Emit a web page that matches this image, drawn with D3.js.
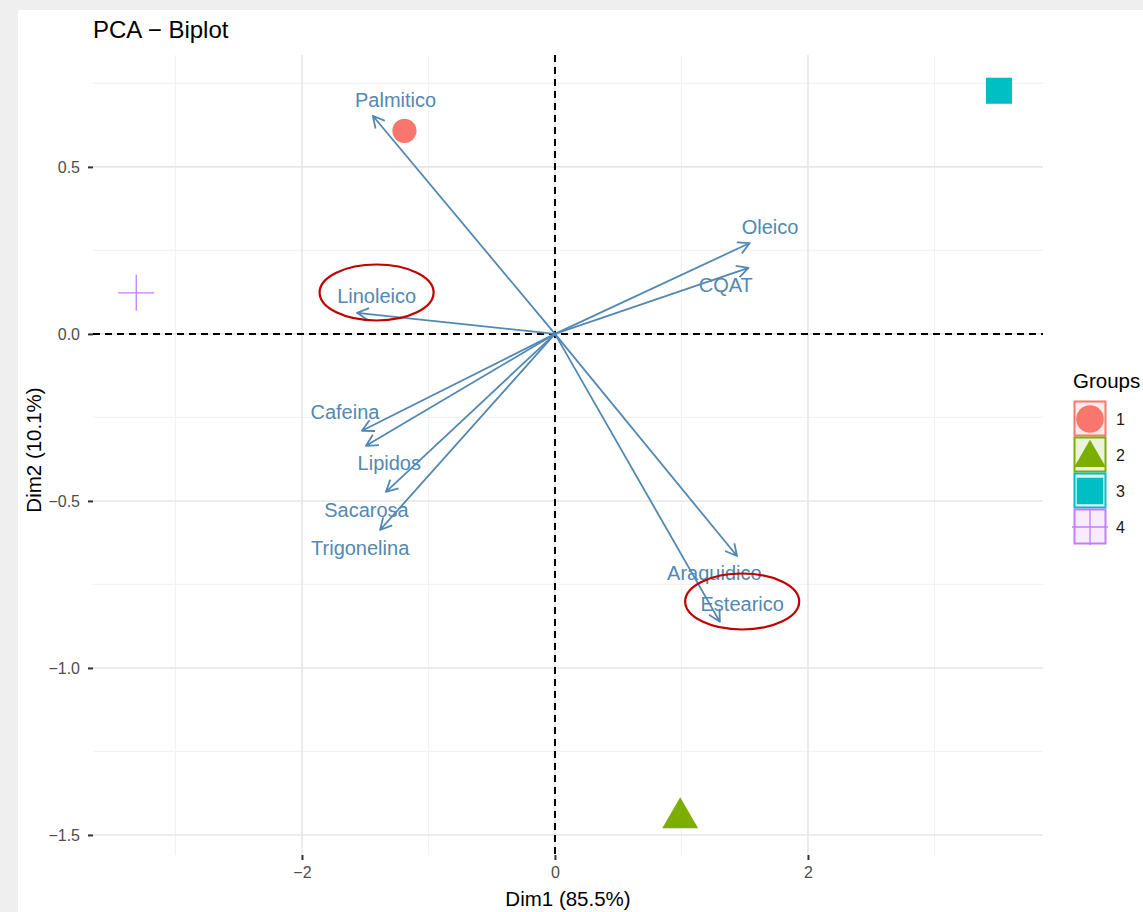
<!DOCTYPE html>
<html>
<head>
<meta charset="utf-8">
<script src="https://cdn.jsdelivr.net/npm/d3@7"></script>
<style>
  html, body { margin: 0; padding: 0; background: #efefef; }
  svg { display: block; font-family: "Liberation Sans", Arial, sans-serif; }
</style>
</head>
<body>
<svg id="chart" width="1143" height="912"></svg>
<script>
// Group scores (individuals) on Dim1 / Dim2
const groups = ["1", "2", "3", "4"];
const groupX = [-1.19, 0.99, 3.51, -3.31];
const groupY = [0.608, -1.449, 0.728, 0.123];
const groupColors = ["#F8766D", "#7CAE00", "#00BFC4", "#C77CFF"];

// Variable loadings (arrow tips)
const variables = ["Palmitico", "Oleico", "CQAT", "Linoleico", "Cafeina", "Lipidos",
                   "Sacarosa", "Trigonelina", "Araquidico", "Estearico"];
const varX = [-1.44, 1.54, 1.53, -1.565, -1.526, -1.494, -1.336, -1.383, 1.439, 1.304];
const varY = [0.653, 0.272, 0.198, 0.063, -0.290, -0.335, -0.473, -0.587, -0.665, -0.862];
// Repelled label anchors (data units)
const labelX = [-1.26, 1.70, 1.35, -1.41, -1.66, -1.31, -1.49, -1.54, 1.26, 1.48];
const labelY = [0.700, 0.320, 0.145, 0.115, -0.234, -0.386, -0.527, -0.640, -0.715, -0.810];

// Axis ticks
const xTicks = [-2, 0, 2];
const xMinor = [-3, -1, 1, 3];
const yTicks = [0.5, 0.0, -0.5, -1.0, -1.5];
const yMinor = [0.75, 0.25, -0.25, -0.75, -1.25];

// Highlighted variables (red outlines)
const highlighted = ["Linoleico", "Estearico"];

const svg = d3.select("#chart");
svg.append("rect").attr("x", 18).attr("y", 10).attr("width", 1125).attr("height", 902).attr("fill", "#ffffff");

const panel = { left: 93, right: 1043, top: 55, bottom: 855 };
const x = d3.scaleLinear().domain([-3.652, 3.858]).range([panel.left, panel.right]);
const y = d3.scaleLinear().domain([0.835, -1.560]).range([panel.top, panel.bottom]);

const grid = svg.append("g");
xMinor.forEach(v => grid.append("line").attr("x1", x(v)).attr("x2", x(v)).attr("y1", panel.top).attr("y2", panel.bottom)
  .attr("stroke", "#F2F2F2").attr("stroke-width", 1.2));
yMinor.forEach(v => grid.append("line").attr("y1", y(v)).attr("y2", y(v)).attr("x1", panel.left).attr("x2", panel.right)
  .attr("stroke", "#F2F2F2").attr("stroke-width", 1.2));
xTicks.forEach(v => grid.append("line").attr("x1", x(v)).attr("x2", x(v)).attr("y1", panel.top).attr("y2", panel.bottom)
  .attr("stroke", "#E6E6E6").attr("stroke-width", 1.6));
yTicks.forEach(v => grid.append("line").attr("y1", y(v)).attr("y2", y(v)).attr("x1", panel.left).attr("x2", panel.right)
  .attr("stroke", "#E6E6E6").attr("stroke-width", 1.6));

// Axes
const xAxis = d3.axisBottom(x).tickValues(xTicks).tickSize(5).tickPadding(7)
  .tickFormat(d => d3.format("d")(d).replace("-", "\u2212"));
const gx = svg.append("g").attr("transform", `translate(0,${panel.bottom})`).call(xAxis);
gx.select(".domain").remove();
gx.selectAll(".tick line").attr("stroke", "#333").attr("stroke-width", 2);
gx.selectAll(".tick text").attr("fill", "#4D4D4D").style("font-size", "16px");

const yAxis = d3.axisLeft(y).tickValues(yTicks).tickSize(5).tickPadding(8)
  .tickFormat(d => d3.format(".1f")(d).replace("-", "\u2212"));
const gy = svg.append("g").attr("transform", `translate(${panel.left},0)`).call(yAxis);
gy.select(".domain").remove();
gy.selectAll(".tick line").attr("stroke", "#333").attr("stroke-width", 2);
gy.selectAll(".tick text").attr("fill", "#4D4D4D").style("font-size", "16px");

// Reference lines through the origin
svg.append("line").attr("x1", x(0)).attr("x2", x(0)).attr("y1", panel.top).attr("y2", panel.bottom)
  .attr("stroke", "#000").attr("stroke-width", 2).attr("stroke-dasharray", "7,5");
svg.append("line").attr("y1", y(0)).attr("y2", y(0)).attr("x1", panel.left).attr("x2", panel.right)
  .attr("stroke", "#000").attr("stroke-width", 2).attr("stroke-dasharray", "7,5");

// Group markers
const sym = [d3.symbolCircle, d3.symbolTriangle, d3.symbolSquare];
const symSize = [460, 560, 680];
const marks = svg.append("g");
groups.forEach((g, i) => {
  const px = x(groupX[i]), py = y(groupY[i]);
  if (i < 3) {
    marks.append("path").attr("d", d3.symbol().type(sym[i]).size(symSize[i])())
      .attr("transform", `translate(${px},${py})`).attr("fill", groupColors[i]);
  } else {
    marks.append("path").attr("d", `M${px - 18},${py}H${px + 18}M${px},${py - 18}V${py + 18}`)
      .attr("stroke", groupColors[i]).attr("stroke-width", 1.3).attr("fill", "none");
  }
});

// Variable arrows
const arrowColor = "#5288B3";
const arrows = svg.append("g");
variables.forEach((v, i) => {
  const x0 = x(0), y0 = y(0), x1 = x(varX[i]), y1 = y(varY[i]);
  const ang = Math.atan2(y1 - y0, x1 - x0);
  const hl = 13, ha = Math.PI / 6.5;
  arrows.append("path")
    .attr("d", `M${x0},${y0}L${x1},${y1}` +
      `M${x1 - hl * Math.cos(ang - ha)},${y1 - hl * Math.sin(ang - ha)}L${x1},${y1}` +
      `L${x1 - hl * Math.cos(ang + ha)},${y1 - hl * Math.sin(ang + ha)}`)
    .attr("stroke", arrowColor).attr("stroke-width", 1.8).attr("fill", "none")
    .attr("stroke-linejoin", "round");
});

// Variable labels
const labels = svg.append("g");
variables.forEach((v, i) => {
  labels.append("text").attr("x", x(labelX[i])).attr("y", y(labelY[i]))
    .attr("text-anchor", "middle").attr("dominant-baseline", "central")
    .attr("fill", arrowColor).style("font-size", "20px").text(v);
});

// Red outlines around highlighted variables
highlighted.forEach(name => {
  const i = variables.indexOf(name);
  const cx = x(labelX[i]), cy = y(labelY[i]);
  svg.append("ellipse").attr("cx", cx).attr("cy", cy - 3).attr("rx", 57).attr("ry", 28)
    .attr("fill", "none").attr("stroke", "#C00000").attr("stroke-width", 2.2);
});

// Title and axis titles
svg.append("text").attr("x", 93).attr("y", 38).style("font-size", "24px").attr("fill", "#000").text("PCA \u2212 Biplot");
svg.append("text").attr("x", 568).attr("y", 906).attr("text-anchor", "middle").style("font-size", "20.5px").attr("fill", "#000").text("Dim1 (85.5%)");
svg.append("text").attr("transform", "translate(41,450) rotate(-90)").attr("text-anchor", "middle")
  .style("font-size", "20.5px").attr("fill", "#000").text("Dim2 (10.1%)");

// Legend
const lg = svg.append("g").attr("transform", "translate(1074,0)");
lg.append("text").attr("x", -1).attr("y", 388).style("font-size", "20.5px").attr("fill", "#000").text("Groups");
const keyTop = [401, 437, 473, 509];
const keySize = [600, 430, 700];
const keyShift = [0, 3, 0];
groups.forEach((g, i) => {
  const top = keyTop[i], s = 31;
  const tint = d3.interpolateRgb(groupColors[i], "#ffffff")(0.85);
  lg.append("rect").attr("x", 0.5).attr("y", top + 0.5).attr("width", s).attr("height", s + 3)
    .attr("fill", tint).attr("stroke", groupColors[i]).attr("stroke-width", 2);
  const cx = 16, cy = top + 18;
  if (i < 3) {
    lg.append("path").attr("d", d3.symbol().type(sym[i]).size(keySize[i])())
      .attr("transform", `translate(${cx},${cy + keyShift[i]})`).attr("fill", groupColors[i]);
  } else {
    lg.append("path").attr("d", `M${cx - 18},${cy}H${cx + 18}M${cx},${cy - 18}V${cy + 18}`)
      .attr("stroke", groupColors[i]).attr("stroke-width", 1.3);
  }
  lg.append("text").attr("x", 42).attr("y", cy).attr("dominant-baseline", "central")
    .style("font-size", "16px").attr("fill", "#1a1a1a").text(g);
});
</script>
</body>
</html>
